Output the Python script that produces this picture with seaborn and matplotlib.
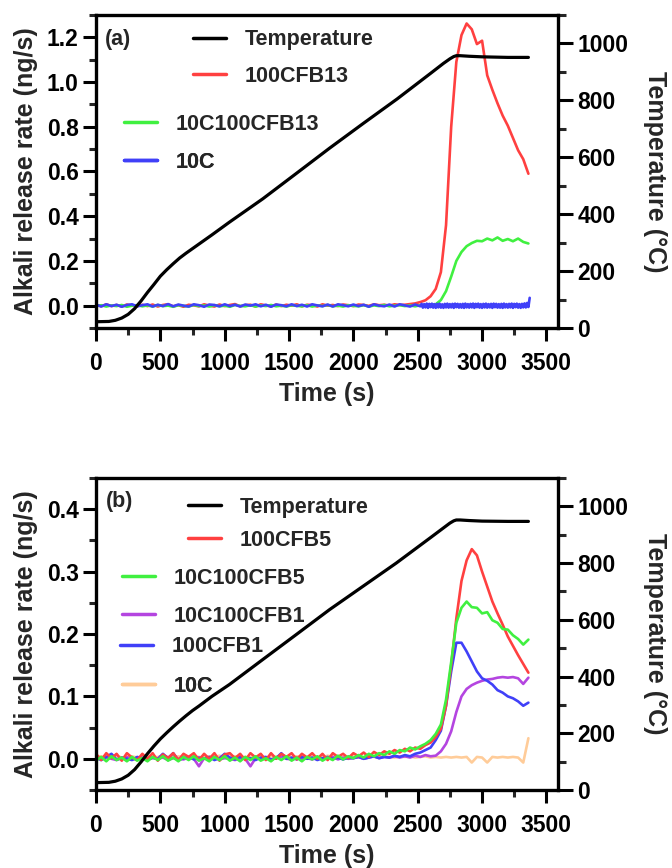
import matplotlib
matplotlib.use("Agg")
import matplotlib.pyplot as plt
import seaborn as sns
from matplotlib.lines import Line2D
from matplotlib.ticker import MultipleLocator, FixedLocator, FixedFormatter

# ---------------- data ----------------
# sampling grid of the release-rate traces (s)
time_s = list(range(0, 3361, 40))

# Panel (a)
temp_time_a = [0, 100, 150, 200, 250, 300, 350, 400, 450, 500, 550, 600, 650, 700, 750, 800,
               900, 1037, 1296, 1556, 1815, 2080, 2340, 2600, 2700, 2750, 2780, 2800, 2830,
               2900, 3000, 3200, 3360]
temp_a = [22, 23, 27, 35, 48, 68, 95, 125, 153, 182, 205, 226, 246, 263, 279, 295,
          327, 372, 454, 543, 632, 720, 805, 895, 930, 946, 954, 957, 957,
          955, 953, 951, 951]

rate_a_100CFB13 = [
    0.004, -0.003, 0.006, -0.002, 0.003, -0.004, 0.005, 0.000, -0.003, 0.004,
    -0.002, 0.005, -0.004, 0.003, 0.006, -0.003, 0.002, -0.005, 0.004, 0.001,
    -0.003, 0.006, 0.000, -0.004, 0.005, -0.002, 0.003, 0.007, -0.003, 0.002,
    0.004, -0.004, 0.006, 0.001, -0.003, 0.005, -0.002, 0.004, 0.000, 0.006,
    -0.003, 0.004, 0.002, -0.004, 0.006, 0.000, 0.003, -0.002, 0.005, 0.002,
    -0.002, 0.005, 0.003, -0.001, 0.006, 0.002, 0.004, 0.000, 0.006, 0.003,
    0.004, 0.007, 0.010, 0.016, 0.024, 0.042, 0.075, 0.150, 0.360, 0.800,
    1.090, 1.210, 1.262, 1.236, 1.170, 1.185, 1.030, 0.965, 0.905, 0.850,
    0.805, 0.750, 0.695, 0.655, 0.590]

rate_a_10C100CFB13 = [
    -0.003, 0.002, -0.004, 0.001, -0.002, 0.003, -0.005, 0.000, 0.002, -0.003,
    0.001, -0.004, 0.003, -0.002, 0.000, -0.005, 0.002, -0.001, -0.004, 0.003,
    -0.002, 0.001, -0.004, 0.002, -0.003, 0.000, -0.005, 0.003, -0.001, -0.003,
    0.002, -0.004, 0.001, -0.002, 0.003, -0.003, 0.000, -0.004, 0.002, -0.001,
    -0.003, 0.002, -0.004, 0.001, -0.002, 0.003, -0.003, 0.000, -0.004, 0.002,
    -0.001, -0.003, 0.002, -0.004, 0.001, -0.002, 0.003, -0.003, 0.000, 0.002,
    -0.002, 0.001, -0.003, 0.002, 0.000, 0.003, 0.006, 0.025, 0.065, 0.130,
    0.200, 0.240, 0.266, 0.280, 0.290, 0.288, 0.300, 0.292, 0.305, 0.290,
    0.298, 0.288, 0.300, 0.285, 0.278]

# the 10C trace is sampled more finely at the end, where it is noisier
time_a_10C = list(range(0, 2521, 40)) + list(range(2530, 3371, 10))
rate_a_10C = [
    0.005, -0.004, 0.006, -0.002, 0.004, -0.005, 0.003, 0.006, -0.003, 0.002,
    0.006, -0.004, 0.004, -0.002, 0.007, -0.003, 0.005, 0.000, -0.004, 0.006,
    0.002, -0.005, 0.005, 0.003, -0.003, 0.006, -0.002, 0.004, -0.004, 0.005,
    0.000, 0.006, -0.003, 0.004, -0.005, 0.005, 0.002, -0.003, 0.006, -0.002,
    0.004, -0.004, 0.006, 0.001, -0.003, 0.005, -0.004, 0.006, 0.002, -0.003,
    0.005, -0.002, 0.004, -0.005, 0.006, 0.000, -0.003, 0.005, -0.004, 0.006,
    0.001, -0.004, 0.005, -0.003,
    0.008, -0.009, 0.007, -0.008, 0.009, -0.010, 0.008, -0.007, 0.009, -0.009,
    0.007, -0.010, 0.008, -0.008, 0.009, -0.009, 0.006, -0.010, 0.008, -0.008,
    0.009, -0.009, 0.007, -0.008, 0.008, -0.010, 0.009, -0.007, 0.008, -0.009,
    0.007, -0.009, 0.008, -0.010, 0.009, -0.008, 0.007, -0.009, 0.008, -0.008,
    0.009, -0.010, 0.008, -0.007, 0.009, -0.009, 0.007, -0.010, 0.008, -0.008,
    0.009, -0.009, 0.007, -0.008, 0.008, -0.010, 0.009, -0.007, 0.008, -0.009,
    0.007, -0.009, 0.008, -0.010, 0.009, -0.008, 0.007, -0.009, 0.008, -0.008,
    0.009, -0.010, 0.008, -0.007, 0.009, -0.009, 0.007, -0.010, 0.008, -0.008,
    0.010, -0.008, 0.012, -0.006, 0.035]

# Panel (b)
temp_time_b = [0, 100, 150, 200, 250, 300, 350, 400, 450, 500, 550, 600, 650, 700, 750, 800,
               900, 1037, 1296, 1556, 1815, 2074, 2333, 2600, 2700, 2750, 2780, 2800, 2830,
               2900, 3000, 3200, 3360]
temp_b = [26, 27, 31, 39, 52, 72, 99, 128, 155, 180, 202, 223, 243, 262, 280, 296,
          330, 372, 460, 548, 636, 718, 800, 890, 924, 941, 949, 952, 952,
          950, 948, 947, 947]

rate_b_100CFB5 = [
    0.008, -0.002, 0.009, 0.001, 0.008, -0.003, 0.009, 0.002, -0.002, 0.008,
    0.000, 0.009, -0.003, 0.007, 0.001, 0.009, -0.002, 0.008, 0.003, 0.009,
    -0.002, 0.008, 0.000, 0.009, -0.003, 0.007, 0.009, 0.001, 0.008, -0.002,
    0.009, 0.002, 0.008, -0.002, 0.009, 0.000, 0.008, 0.003, 0.009, -0.001,
    0.008, 0.002, 0.009, 0.000, 0.008, -0.002, 0.009, 0.003, 0.008, 0.001,
    0.009, 0.004, 0.010, 0.003, 0.011, 0.006, 0.012, 0.008, 0.014, 0.010,
    0.016, 0.012, 0.018, 0.016, 0.022, 0.026, 0.035, 0.048, 0.085, 0.150,
    0.225, 0.285, 0.318, 0.336, 0.326, 0.300, 0.276, 0.252, 0.233, 0.215,
    0.196, 0.181, 0.166, 0.152, 0.138]

rate_b_10C100CFB5 = [
    -0.003, 0.003, -0.004, 0.004, -0.002, 0.002, -0.004, 0.003, -0.003, 0.001,
    -0.004, 0.003, -0.002, 0.004, -0.003, 0.002, -0.004, 0.003, -0.002, 0.004,
    -0.003, 0.001, -0.004, 0.003, -0.002, 0.004, -0.003, 0.002, -0.004, 0.003,
    -0.002, 0.004, -0.003, 0.001, -0.004, 0.003, -0.002, 0.004, -0.003, 0.002,
    -0.004, 0.003, -0.001, 0.004, -0.003, 0.002, -0.002, 0.005, -0.001, 0.004,
    0.001, 0.006, 0.002, 0.008, 0.004, 0.009, 0.006, 0.012, 0.008, 0.014,
    0.012, 0.018, 0.015, 0.020, 0.024, 0.030, 0.040, 0.055, 0.095, 0.155,
    0.218, 0.242, 0.252, 0.243, 0.242, 0.233, 0.235, 0.222, 0.218, 0.208,
    0.207, 0.198, 0.192, 0.183, 0.191]

rate_b_10C100CFB1 = [
    0.001, -0.001, 0.002, 0.000, -0.002, 0.001, 0.003, -0.001, 0.000, 0.002,
    -0.001, 0.001, 0.000, 0.002, -0.002, 0.001, 0.000, -0.001, 0.002, 0.000,
    -0.012, 0.001, 0.000, 0.002, -0.001, 0.001, 0.000, -0.002, 0.001, 0.000,
    -0.012, 0.001, 0.000, 0.002, -0.001, 0.001, 0.003, 0.000, -0.001, 0.002,
    0.000, 0.001, -0.001, 0.002, 0.000, 0.001, 0.003, -0.001, 0.002, 0.000,
    0.001, 0.003, 0.000, 0.002, 0.004, 0.001, 0.003, 0.002, 0.004, 0.002,
    0.004, 0.002, 0.005, 0.003, 0.006, 0.004, 0.005, 0.012, 0.024, 0.044,
    0.075, 0.100, 0.112, 0.118, 0.122, 0.125, 0.127, 0.128, 0.130, 0.131,
    0.130, 0.131, 0.129, 0.120, 0.130]

rate_b_100CFB1 = [
    0.002, -0.002, 0.003, 0.008, -0.001, 0.002, 0.000, -0.002, 0.003, 0.001,
    -0.001, 0.002, 0.000, 0.008, 0.001, 0.009, -0.002, 0.001, 0.003, -0.001,
    0.002, 0.000, 0.003, -0.002, 0.001, 0.008, 0.002, -0.001, 0.003, 0.000,
    0.001, -0.002, 0.002, 0.003, -0.001, 0.001, 0.009, 0.000, 0.002, -0.001,
    0.003, 0.000, 0.002, -0.002, 0.001, 0.003, 0.000, 0.002, -0.001, 0.002,
    0.001, 0.003, 0.000, 0.002, 0.004, 0.001, 0.003, 0.002, 0.005, 0.003,
    0.006, 0.004, 0.008, 0.010, 0.014, 0.018, 0.030, 0.045, 0.085, 0.140,
    0.186, 0.186, 0.172, 0.156, 0.140, 0.129, 0.125, 0.119, 0.110, 0.106,
    0.100, 0.097, 0.092, 0.085, 0.090]

rate_b_10C = [
    0.003, 0.004, 0.002, 0.003, 0.005, 0.002, 0.003, 0.004, 0.002, 0.003,
    0.004, 0.002, 0.003, 0.005, 0.003, 0.002, 0.004, 0.003, 0.002, 0.004,
    0.003, 0.002, 0.004, 0.003, 0.005, 0.002, 0.003, 0.004, 0.002, 0.003,
    0.002, 0.004, 0.003, 0.002, 0.004, 0.003, 0.005, 0.002, 0.003, 0.004,
    0.003, 0.002, 0.004, 0.003, 0.002, 0.005, 0.003, 0.004, 0.002, 0.003,
    0.004, 0.002, 0.003, 0.005, 0.003, 0.002, 0.004, 0.003, 0.002, 0.004,
    0.003, 0.004, 0.002, 0.003, 0.004, 0.002, 0.003, 0.002, 0.003, 0.002,
    0.003, 0.002, 0.003, -0.006, 0.003, 0.002, -0.006, 0.003, 0.002, 0.003,
    0.002, 0.003, 0.002, -0.006, 0.033]

# ---------------- style ----------------
sns.set_style("ticks")
plt.rcParams['font.family'] = ['Liberation Sans', 'DejaVu Sans']
plt.rcParams['font.weight'] = 'bold'
plt.rcParams['axes.labelweight'] = 'bold'

RED = '#FF4040'
GREEN = '#40F040'
BLUE = '#4040F8'
PURPLE = '#B445E0'
PEACH = '#FFCC99'

W, H = 672, 868
fig = plt.figure(figsize=(W / 100, H / 100), dpi=100)

SPINE_W = 2.4
TICK_FS = 16.5
LABEL_FS = 18
LEG_FS = 15.5
LW = 1.9


def style_axes(ax, ax2, ymaj, ymin, ylim, yfmt):
    ax.set_xlim(0, 3590)
    ax.set_ylim(*ylim)
    ax2.set_ylim(0, 1100)
    ax.xaxis.set_major_locator(MultipleLocator(500))
    ax.xaxis.set_minor_locator(MultipleLocator(250))
    ax.yaxis.set_major_locator(FixedLocator(ymaj))
    ax.yaxis.set_major_formatter(FixedFormatter([yfmt.format(v) for v in ymaj]))
    ax.yaxis.set_minor_locator(MultipleLocator(ymin))
    ax2.yaxis.set_major_locator(MultipleLocator(200))
    ax2.yaxis.set_minor_locator(MultipleLocator(100))
    for s in ['left', 'top', 'bottom']:
        ax.spines[s].set_linewidth(SPINE_W)
        ax.spines[s].set_color('black')
        ax2.spines[s].set_visible(False)
    ax.spines['right'].set_visible(False)
    ax2.spines['right'].set_linewidth(SPINE_W)
    ax2.spines['right'].set_color('black')
    ax.tick_params(axis='both', which='major', direction='out', length=9.5, width=2.2,
                   labelsize=TICK_FS, colors='black')
    ax.tick_params(axis='x', which='major', pad=7.5)
    ax.tick_params(axis='y', which='major', pad=3)
    ax.tick_params(axis='both', which='minor', direction='out', length=5, width=2.2)
    ax.tick_params(axis='y', which='both', right=False)
    ax.tick_params(axis='x', which='both', top=False)
    ax2.tick_params(axis='y', which='major', direction='out', length=10.5, width=2.2,
                    labelsize=TICK_FS, pad=3.5, colors='black')
    ax2.tick_params(axis='y', which='minor', direction='out', length=6, width=2.2)
    for lab in ax.get_xticklabels() + ax.get_yticklabels() + ax2.get_yticklabels():
        lab.set_fontweight('bold')
    ax.set_xlabel('Time (s)', fontsize=LABEL_FS, fontweight='bold', labelpad=5)
    ax.set_ylabel('Alkali release rate (ng/s)', fontsize=LABEL_FS, fontweight='bold', labelpad=6)
    ax2.set_ylabel('Temperature (°C)', fontsize=LABEL_FS, fontweight='bold', rotation=270,
                   labelpad=27.5)
    ax.set_facecolor('none')


def add_entry(ax, color, label, x_px, y_px):
    h = Line2D([], [], color=color, lw=2.5)
    leg = ax.legend([h], [label], loc='center left',
                    bbox_to_anchor=(x_px / W, 1 - y_px / H), bbox_transform=fig.transFigure,
                    frameon=False, borderpad=0, borderaxespad=0, handlelength=1.53,
                    handletextpad=0.88, prop={'size': LEG_FS, 'weight': 'bold'})
    ax.add_artist(leg)


# ---------------- panel (a) ----------------
ax_a = fig.add_axes([96 / W, 1 - 328 / H, 462 / W, 313 / H])
ax_a2 = ax_a.twinx()
sns.lineplot(x=time_s, y=rate_a_100CFB13, ax=ax_a, color=RED, lw=LW, estimator=None)
sns.lineplot(x=time_s, y=rate_a_10C100CFB13, ax=ax_a, color=GREEN, lw=LW, estimator=None)
sns.lineplot(x=time_a_10C, y=rate_a_10C, ax=ax_a, color=BLUE, lw=LW, estimator=None)
sns.lineplot(x=temp_time_a, y=temp_a, ax=ax_a2, color='black', lw=2.3, estimator=None)
style_axes(ax_a, ax_a2, [0.0, 0.2, 0.4, 0.6, 0.8, 1.0, 1.2], 0.1, (-0.1, 1.3), '{:.1f}')
fig.text(105 / W, 1 - 40 / H, '(a)', fontsize=LEG_FS, fontweight='bold', ha='left', va='center')
add_entry(ax_a2, 'black', 'Temperature', 193, 40)
add_entry(ax_a2, RED, '100CFB13', 193, 76)
add_entry(ax_a2, GREEN, '10C100CFB13', 124, 124)
add_entry(ax_a2, BLUE, '10C', 124, 162)

# ---------------- panel (b) ----------------
ax_b = fig.add_axes([96 / W, 1 - 790 / H, 462 / W, 312 / H])
ax_b2 = ax_b.twinx()
sns.lineplot(x=time_s, y=rate_b_10C, ax=ax_b, color=PEACH, lw=LW, estimator=None)
sns.lineplot(x=time_s, y=rate_b_10C100CFB1, ax=ax_b, color=PURPLE, lw=LW, estimator=None)
sns.lineplot(x=time_s, y=rate_b_100CFB1, ax=ax_b, color=BLUE, lw=LW, estimator=None)
sns.lineplot(x=time_s, y=rate_b_100CFB5, ax=ax_b, color=RED, lw=LW, estimator=None)
sns.lineplot(x=time_s, y=rate_b_10C100CFB5, ax=ax_b, color=GREEN, lw=LW, estimator=None)
sns.lineplot(x=temp_time_b, y=temp_b, ax=ax_b2, color='black', lw=2.3, estimator=None)
style_axes(ax_b, ax_b2, [0.0, 0.1, 0.2, 0.3, 0.4], 0.05, (-0.05, 0.45), '{:.1f}')
fig.text(106 / W, 1 - 501 / H, '(b)', fontsize=LEG_FS, fontweight='bold', ha='left', va='center')
add_entry(ax_b2, 'black', 'Temperature', 188, 507)
add_entry(ax_b2, RED, '100CFB5', 188, 540)
add_entry(ax_b2, GREEN, '10C100CFB5', 122, 578)
add_entry(ax_b2, PURPLE, '10C100CFB1', 122, 616)
add_entry(ax_b2, BLUE, '100CFB1', 120, 647)
add_entry(ax_b2, PEACH, '10C', 122, 686)

fig.savefig('out.png', dpi=100)
